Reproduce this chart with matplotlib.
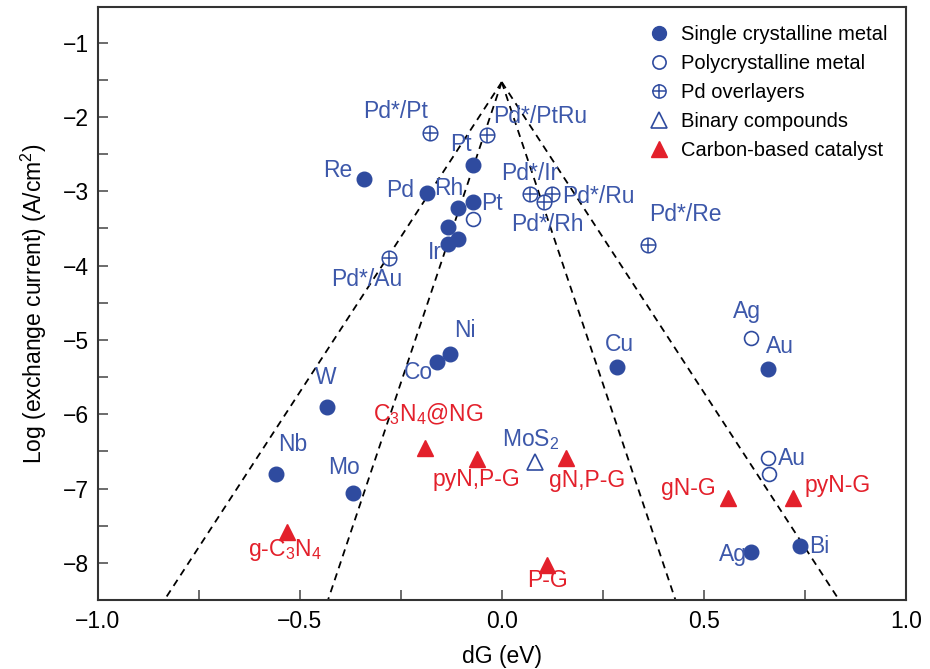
import numpy as np
import matplotlib
matplotlib.use("Agg")
import matplotlib.pyplot as plt
from matplotlib.lines import Line2D
from matplotlib.legend_handler import HandlerTuple

plt.rcParams["font.family"] = ["Liberation Sans", "DejaVu Sans"]
plt.rcParams["mathtext.default"] = "regular"

# --- data (dG in eV, log exchange current in A/cm^2) ---
single_names = ["Re", "Pd", "Rh", "Pt", "Pt", "", "Ir", "", "Ni", "Co",
                "W", "Nb", "Mo", "Cu", "Au", "Ag", "Bi"]
single_dg = [-0.342, -0.186, -0.109, -0.072, -0.072, -0.134, -0.134, -0.109,
             -0.129, -0.161, -0.433, -0.559, -0.369, 0.285, 0.658, 0.616, 0.738]
single_logi = [-2.83, -3.02, -3.22, -2.64, -3.14, -3.48, -3.71, -3.64,
               -5.19, -5.29, -5.90, -6.80, -7.06, -5.37, -5.39, -7.85, -7.77]

poly_names = ["", "Ag", "Au", ""]
poly_dg = [-0.072, 0.618, 0.659, 0.661]
poly_logi = [-3.37, -4.98, -6.59, -6.80]

pd_names = ["Pd*/Pt", "Pd*/PtRu", "Pd*/Ir", "Pd*/Ru", "Pd*/Rh", "Pd*/Au", "Pd*/Re"]
pd_dg = [-0.178, -0.037, 0.069, 0.124, 0.104, -0.280, 0.361]
pd_logi = [-2.21, -2.24, -3.03, -3.03, -3.14, -3.90, -3.72]

bin_names = ["MoS$_2$"]
bin_dg = [0.082]
bin_logi = [-6.64]

carbon_names = ["C$_3$N$_4$@NG", "pyN,P-G", "gN,P-G", "g-C$_3$N$_4$", "P-G",
                "gN-G", "pyN-G"]
carbon_dg = [-0.191, -0.062, 0.158, -0.532, 0.111, 0.560, 0.720]
carbon_logi = [-6.46, -6.60, -6.59, -7.58, -8.03, -7.13, -7.13]

# volcano guide lines: apex and where each branch meets the bottom of the plot
apex = (0.0, -1.53)
bottom_dg = [-0.835, -0.43, 0.43, 0.835]
bottom_logi = -8.5

# label offsets in pixels (layout only)
single_off = [(-26, 8), (-26, 2), (-9, 19), (-12, 20), (19, -2), (0, 0), (-13, -8),
              (0, 0), (15, 24), (-18, -11), (-1, 29), (17, 29), (-9, 26), (3, 23),
              (12, 22), (-18, -3), (19, -1)]
poly_off = [(0, 0), (-5, 27), (24, 0), (0, 0)]
pd_off = [(-34, 21), (53, 18), (0, 20), (47, -3), (4, -23), (-22, -21), (38, 30)]
bin_off = [(-4, 22)]
carbon_off = [(4, 34), (0, -21), (22, -22), (-2, -18), (1, -15), (-40, 10), (45, 13)]

blue = "#2f4b9f"
blue_txt = "#3d58aa"
red = "#e3202b"

fig = plt.figure(figsize=(9.3, 6.69), dpi=100)
ax = fig.add_axes([0.105, 0.103, 0.869, 0.8865])

for xb in bottom_dg:
    ax.plot([apex[0], xb], [apex[1], bottom_logi], color="black", lw=1.3,
            dashes=(4, 3), zorder=1)

ms = 10.5
ax.plot(single_dg, single_logi, "o", color=blue, ms=ms, ls="none", zorder=3)
ax.plot(poly_dg, poly_logi, "o", mfc="white", mec=blue, mew=1.2, ms=ms - 0.5,
        ls="none", zorder=3)
ax.plot(pd_dg, pd_logi, "o", mfc="white", mec=blue, mew=1.1, ms=ms,
        ls="none", zorder=3)
ax.plot(pd_dg, pd_logi, "+", color=blue, mew=1.1, ms=ms, ls="none", zorder=4)
ax.plot(bin_dg, bin_logi, "^", mfc="white", mec=blue, mew=1.2, ms=ms + 1.5,
        ls="none", zorder=3)
ax.plot(carbon_dg, carbon_logi, "^", color=red, ms=ms + 1.5, ls="none", zorder=3)

fs = 16.5
groups = [
    (single_names, single_dg, single_logi, single_off, blue_txt),
    (poly_names, poly_dg, poly_logi, poly_off, blue_txt),
    (pd_names, pd_dg, pd_logi, pd_off, blue_txt),
    (bin_names, bin_dg, bin_logi, bin_off, blue_txt),
    (carbon_names, carbon_dg, carbon_logi, carbon_off, red),
]
for names, xs, ys, offs, col in groups:
    for name, x, y, off in zip(names, xs, ys, offs):
        if name:
            ax.annotate(name, (x, y), xytext=off, textcoords="offset pixels",
                        ha="center", va="center", fontsize=fs, color=col, zorder=5)

ax.set_xlim(-1.0, 1.0)
ax.set_ylim(-8.5, -0.52)
ax.set_xticks([-1.0, -0.5, 0.0, 0.5, 1.0])
ax.set_xticks(np.arange(-0.75, 1.0, 0.5), minor=True)
ax.set_yticks(np.arange(-8, 0, 1))
ax.set_yticks(np.arange(-8.5, -0.5, 1), minor=True)
ax.set_yticklabels([f"\u2212{abs(v)}" for v in range(-8, 0)])
ax.set_xticklabels(["\u22121.0", "\u22120.5", "0.0", "0.5", "1.0"])
ax.tick_params(which="both", direction="in", length=7, width=1.1, color="#444444",
               labelsize=16.5)
ax.tick_params(axis="x", pad=7)
ax.tick_params(axis="y", pad=6)
for s in ax.spines.values():
    s.set_linewidth(1.5)
    s.set_color("#333333")
ax.set_xlabel("dG (eV)", fontsize=16.5, labelpad=9)
ax.set_ylabel("Log (exchange current) (A/cm$^2$)", fontsize=16.5, labelpad=10)

handles = [
    Line2D([], [], marker="o", color=blue, ls="none", ms=10),
    Line2D([], [], marker="o", mfc="white", mec=blue, mew=1.2, ls="none", ms=9.5),
    (Line2D([], [], marker="o", mfc="white", mec=blue, mew=1.1, ls="none", ms=9.5),
     Line2D([], [], marker="+", color=blue, mew=1.1, ls="none", ms=9.5)),
    Line2D([], [], marker="^", mfc="white", mec=blue, mew=1.2, ls="none", ms=11.5),
    Line2D([], [], marker="^", color=red, ls="none", ms=11.5),
]
labels = ["Single crystalline metal", "Polycrystalline metal", "Pd overlayers",
          "Binary compounds", "Carbon-based catalyst"]
ax.legend(handles, labels, loc="upper right", frameon=False, fontsize=14.5,
          handler_map={tuple: HandlerTuple(ndivide=1, pad=0)},
          handletextpad=0.5, labelspacing=0.5, borderaxespad=0.5,
          handlelength=1.2)

fig.savefig("out.png", dpi=100)
